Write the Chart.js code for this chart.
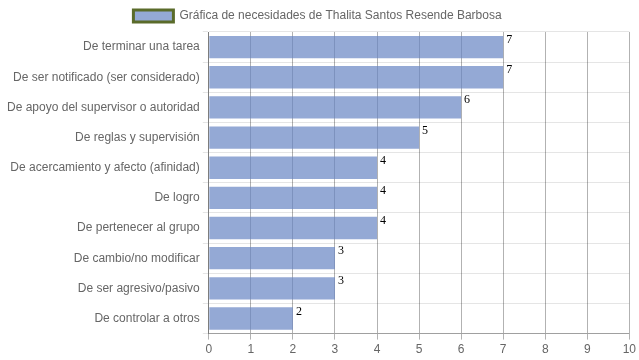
<!DOCTYPE html>
<html><head><meta charset="utf-8">
<script src="https://cdn.jsdelivr.net/npm/chart.js@4/dist/chart.umd.min.js"></script>
<style>html,body{margin:0;padding:0;background:#fff}#w{width:639px;height:360px}</style>
</head><body><div id="w"><canvas id="c"></canvas></div>
<script>
const categories = ["De terminar una tarea","De ser notificado (ser considerado)","De apoyo del supervisor o autoridad","De reglas y supervisión","De acercamiento y afecto (afinidad)","De logro","De pertenecer al grupo","De cambio/no modificar","De ser agresivo/pasivo","De controlar a otros"];
const values = [7,7,6,5,4,4,4,3,3,2];
const seriesName = "Gráfica de necesidades de Thalita Santos Resende Barbosa";

const labelPlugin = {
  id:'vals',
  afterDatasetsDraw(chart){
    const ctx = chart.ctx;
    const meta = chart.getDatasetMeta(0);
    ctx.save();
    ctx.font = '12px "Liberation Serif", "Times New Roman", serif';
    ctx.fillStyle = '#000';
    ctx.textAlign = 'left';
    ctx.textBaseline = 'top';
    meta.data.forEach((bar,i)=>{
      ctx.fillText(String(values[i]), bar.x + 3, bar.y - bar.height/2 - 2);
    });
    ctx.restore();
  }
};

new Chart(document.getElementById('c'), {
  type:'bar',
  data:{labels:categories, datasets:[{label:seriesName, data:values,
    backgroundColor:'rgba(102,132,195,0.7)', borderColor:'#5a6b2a', borderWidth:0,
    categoryPercentage:0.78, barPercentage:0.95}]},
  options:{
    indexAxis:'y', responsive:true, maintainAspectRatio:false, animation:false,
    layout:{padding:{left:4,right:8,top:0,bottom:0}},
    plugins:{
      legend:{display:true, labels:{color:'#666', font:{family:'"Liberation Sans", Arial, sans-serif', size:12}, boxWidth:40, boxHeight:12,
        generateLabels(){return [{text:seriesName, fillStyle:'rgba(102,132,195,0.7)', strokeStyle:'#5a6b2a', lineWidth:3, fontColor:'#666'}];}}},
      tooltip:{enabled:false}
    },
    scales:{
      x:{min:0,max:10, ticks:{stepSize:1, color:'#666', font:{family:'"Liberation Sans", Arial, sans-serif', size:12}},
        grid:{color:'rgba(0,0,0,0.3)', drawTicks:true, tickLength:6}, border:{color:'rgba(0,0,0,0.3)'}},
      y:{ticks:{color:'#666', font:{family:'"Liberation Sans", Arial, sans-serif', size:12}},
        grid:{color:'rgba(0,0,0,0.1)', tickLength:6}, border:{color:'rgba(0,0,0,0.3)'}}
    }
  },
  plugins:[labelPlugin]
});
</script></body></html>
